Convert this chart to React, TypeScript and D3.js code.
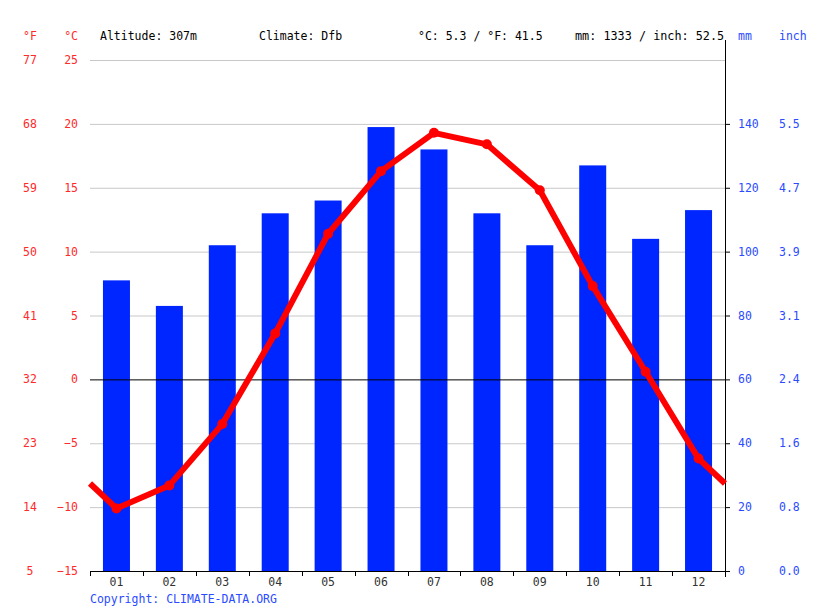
import React, { useEffect, useRef } from "react";
import * as d3 from "d3";

const months = ["01", "02", "03", "04", "05", "06", "07", "08", "09", "10", "11", "12"];
const precipMm = [91, 83, 102, 112, 116, 139, 132, 112, 102, 127, 104, 113];
const tempC = [-10.1, -8.3, -3.5, 3.6, 11.4, 16.3, 19.3, 18.4, 14.8, 7.3, 0.6, -6.2];
const celsiusTicks = [-15, -10, -5, 0, 5, 10, 15, 20, 25];
const fahrenheitLabels = ["5", "14", "23", "32", "41", "50", "59", "68", "77"];
const mmTicks = [0, 20, 40, 60, 80, 100, 120, 140];
const inchLabels = ["0.0", "0.8", "1.6", "2.4", "3.1", "3.9", "4.7", "5.5"];

const RED = "#ff0000";
const RED_TXT = "#ff2a2a";
const BLUE = "#0026ff";
const BLUE_TXT = "#2a4bff";
const FONT = "'DejaVu Sans Mono', monospace";

export default function App() {
  const ref = useRef<SVGSVGElement>(null);

  useEffect(() => {
    if (!ref.current) return;
    const svg = d3.select(ref.current);
    svg.selectAll("*").remove();

    const left = 90, right = 725, top = 60, bottom = 571;

    const x = d3.scaleBand().domain(months).range([left, right]);
    const yT = d3.scaleLinear().domain([-15, 25]).range([bottom, top]);
    const yP = d3.scaleLinear().domain([0, 160]).range([bottom, top]);

    const g = svg.append("g").style("font-family", FONT).style("font-size", "11.5px");

    // grid
    g.selectAll("line.grid")
      .data(celsiusTicks.filter((t) => t !== -15 && t !== 0))
      .enter()
      .append("line")
      .attr("x1", left)
      .attr("x2", right)
      .attr("y1", (d) => yT(d) + 0.5)
      .attr("y2", (d) => yT(d) + 0.5)
      .attr("stroke", "#c8c8c8")
      .attr("stroke-width", 1);

    // bars
    const bw = 27;
    g.selectAll("rect.bar")
      .data(precipMm)
      .enter()
      .append("rect")
      .attr("x", (_, i) => (x(months[i]) as number) + x.bandwidth() / 2 - bw / 2)
      .attr("y", (d) => yP(d))
      .attr("width", bw)
      .attr("height", (d) => bottom - yP(d))
      .attr("fill", BLUE);

    // zero line
    g.append("line")
      .attr("x1", left).attr("x2", right)
      .attr("y1", yT(0) + 0.5).attr("y2", yT(0) + 0.5)
      .attr("stroke", "#000");

    // bottom axis
    g.append("line")
      .attr("x1", left).attr("x2", right + 1)
      .attr("y1", bottom + 0.5).attr("y2", bottom + 0.5)
      .attr("stroke", "#000");
    const bounds = d3.range(13).map((i) => left + i * x.step());
    g.selectAll("line.xt")
      .data(bounds)
      .enter()
      .append("line")
      .attr("x1", (d) => Math.round(d) + 0.5)
      .attr("x2", (d) => Math.round(d) + 0.5)
      .attr("y1", bottom)
      .attr("y2", bottom + 5)
      .attr("stroke", "#000");
    g.selectAll("text.xl")
      .data(months)
      .enter()
      .append("text")
      .attr("x", (d) => (x(d) as number) + x.bandwidth() / 2)
      .attr("y", bottom + 15)
      .attr("text-anchor", "middle")
      .attr("fill", "#333")
      .text((d) => d);

    // right axis
    g.append("line")
      .attr("x1", right + 0.5).attr("x2", right + 0.5)
      .attr("y1", 40).attr("y2", bottom + 6)
      .attr("stroke", "#000");
    g.selectAll("line.yt")
      .data(mmTicks)
      .enter()
      .append("line")
      .attr("x1", right)
      .attr("x2", right + 5)
      .attr("y1", (d) => yP(d) + 0.5)
      .attr("y2", (d) => yP(d) + 0.5)
      .attr("stroke", "#000");
    g.selectAll("text.mm")
      .data(mmTicks)
      .enter()
      .append("text")
      .attr("x", 738)
      .attr("y", (d) => yP(d) + 4)
      .attr("fill", BLUE_TXT)
      .text((d) => d);
    g.selectAll("text.inch")
      .data(inchLabels)
      .enter()
      .append("text")
      .attr("x", 779)
      .attr("y", (_, i) => yP(mmTicks[i]) + 4)
      .attr("fill", BLUE_TXT)
      .text((d) => d);

    // left labels
    g.selectAll("text.c")
      .data(celsiusTicks)
      .enter()
      .append("text")
      .attr("x", 78)
      .attr("y", (d) => yT(d) + 4)
      .attr("text-anchor", "end")
      .attr("fill", RED_TXT)
      .text((d) => (d < 0 ? "\u2212" + Math.abs(d) : String(d)));
    g.selectAll("text.f")
      .data(fahrenheitLabels)
      .enter()
      .append("text")
      .attr("x", 30)
      .attr("y", (_, i) => yT(celsiusTicks[i]) + 4)
      .attr("text-anchor", "middle")
      .attr("fill", RED_TXT)
      .text((d) => d);

    // temperature line, wrapping to edges
    const cx = (i: number) => (x(months[i]) as number) + x.bandwidth() / 2;
    const edge = (tempC[0] + tempC[11]) / 2;
    const pts: [number, number][] = [
      [left, yT(edge)],
      ...tempC.map((t, i) => [cx(i), yT(t)] as [number, number]),
      [right, yT(edge)],
    ];
    g.append("path")
      .attr("d", d3.line()(pts))
      .attr("fill", "none")
      .attr("stroke", RED)
      .attr("stroke-width", 6)
      .attr("stroke-linejoin", "round");
    g.selectAll("circle.pt")
      .data(tempC)
      .enter()
      .append("circle")
      .attr("cx", (_, i) => cx(i))
      .attr("cy", (d) => yT(d))
      .attr("r", 5)
      .attr("fill", RED);

    // header
    g.append("text").attr("x", 30).attr("y", 40).attr("text-anchor", "middle").attr("fill", RED_TXT).text("°F");
    g.append("text").attr("x", 78).attr("y", 40).attr("text-anchor", "end").attr("fill", RED_TXT).text("°C");
    g.append("text").attr("x", 100).attr("y", 40).attr("fill", "#000").text("Altitude: 307m");
    g.append("text").attr("x", 259).attr("y", 40).attr("fill", "#000").text("Climate: Dfb");
    g.append("text").attr("x", 418).attr("y", 40).attr("fill", "#000").text("°C: 5.3 / °F: 41.5");
    g.append("text").attr("x", 575).attr("y", 40).attr("fill", "#000").style("font-size", "11.8px").text("mm: 1333 / inch: 52.5");
    g.append("text").attr("x", 738).attr("y", 40).attr("fill", BLUE_TXT).text("mm");
    g.append("text").attr("x", 779).attr("y", 40).attr("fill", BLUE_TXT).text("inch");

    g.append("text").attr("x", 90).attr("y", 603).attr("fill", BLUE_TXT).text("Copyright: CLIMATE-DATA.ORG");
  }, []);

  return (
    <svg
      ref={ref}
      width={815}
      height={611}
      style={{ position: "absolute", left: 0, top: 0, background: "#fff" }}
    />
  );
}
